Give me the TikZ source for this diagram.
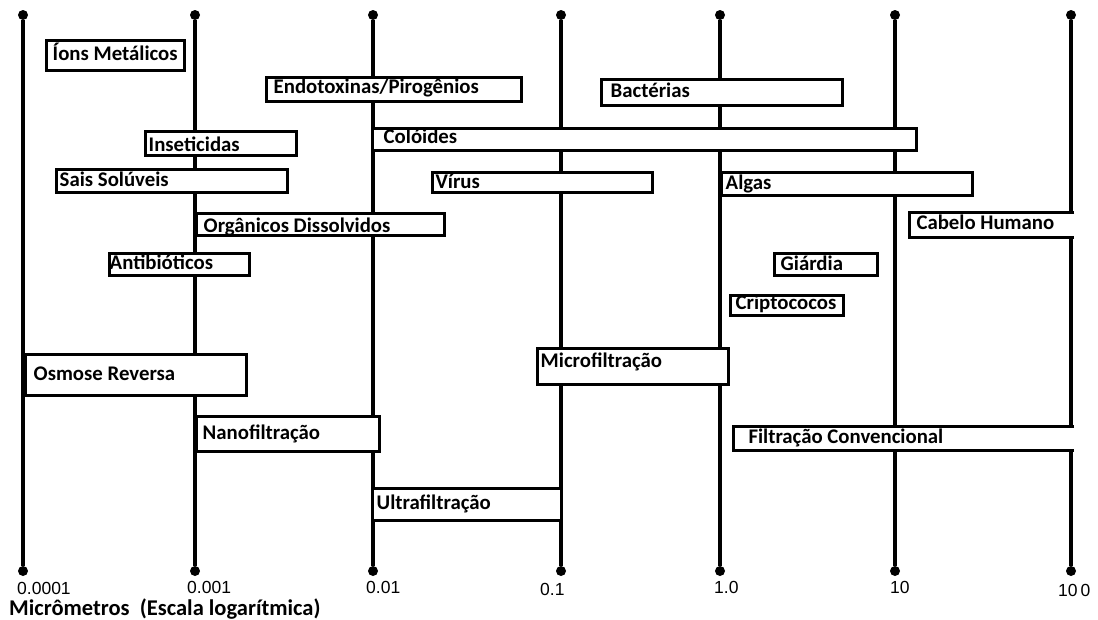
\documentclass[tikz,border=0pt]{standalone}
\usepackage{fontspec}
\setmainfont{Carlito}
\newfontfamily\escfont{Liberation Sans}
\usepackage{tikz}

\tikzset{
	eixo/.style={line width=3.2pt},
	ponto/.style={circle, fill=black, inner sep=0pt, minimum size=10pt},
	faixa/.style={draw=black, fill=white, line width=3pt, inner sep=0pt},
	aberta/.style={fill=white, inner sep=0pt},
	borda/.style={line width=3pt},
	rotulo/.style={anchor=west, inner sep=0pt, font=\fontsize{20.8}{22}\selectfont\bfseries, text height=13pt, text depth=1pt},
	escala/.style={anchor=west, inner sep=0pt, font=\fontsize{17.5}{20}\selectfont\escfont},
	titulo/.style={anchor=west, inner sep=0pt, font=\fontsize{22.5}{24}\selectfont\bfseries}
}

\begin{document}
\begin{tikzpicture}[x=1pt, y=-1pt]
\useasboundingbox (0,0) rectangle (1098,619);
\fill[white] (0,0) rectangle (1098,619);
\node[ponto] (t1) at (23,15) {}; \node[ponto] (b1) at (23,571) {};
\node[ponto] (t2) at (195,15) {}; \node[ponto] (b2) at (195,571) {};
\node[ponto] (t3) at (373,15) {}; \node[ponto] (b3) at (373,571) {};
\node[ponto] (t4) at (561,15) {}; \node[ponto] (b4) at (561,571) {};
\node[ponto] (t5) at (720,15) {}; \node[ponto] (b5) at (720,571) {};
\node[ponto] (t6) at (895,15) {}; \node[ponto] (b6) at (895,571) {};
\node[ponto] (t7) at (1071,15) {}; \node[ponto] (b7) at (1071,571) {};
\draw[eixo] (t1) -- (b1);
\draw[eixo] (t2) -- (b2);
\draw[eixo] (t3) -- (b3);
\draw[eixo] (t4) -- (b4);
\draw[eixo] (t5) -- (b5);
\draw[eixo] (t6) -- (b6);
\draw[eixo] (t7) -- (b7);

\node[faixa, minimum width=138pt, minimum height=30pt] (ions) at (115.5,55.5) {};
\node[faixa, minimum width=255pt, minimum height=24pt] (endo) at (394,89.5) {};
\node[faixa, minimum width=241pt, minimum height=26pt] (bact) at (722,92.5) {};
\node[faixa, minimum width=151pt, minimum height=24pt] (inset) at (221,143.5) {};
\node[faixa, minimum width=544pt, minimum height=22pt] (colo) at (644.5,139.5) {};
\node[faixa, minimum width=231pt, minimum height=23pt] (sais) at (172,181) {};
\node[faixa, minimum width=220pt, minimum height=20pt] (virus) at (542.5,182.5) {};
\node[faixa, minimum width=251pt, minimum height=23pt] (algas) at (847,184) {};
\node[faixa, minimum width=248pt, minimum height=22pt] (org) at (320.5,224.5) {};
\node[aberta, minimum width=164pt, minimum height=25pt] (cabelo) at (992,225) {};
\draw[borda] (cabelo.north east) -- (cabelo.north west) -- (cabelo.south west) -- (cabelo.south east);
\node[faixa, minimum width=140pt, minimum height=22pt] (antib) at (179.5,264.5) {};
\node[faixa, minimum width=103pt, minimum height=22pt] (giard) at (826,264.5) {};
\node[faixa, minimum width=113pt, minimum height=20pt] (cripto) at (787,305.5) {};
\node[faixa, minimum width=221pt, minimum height=41pt] (osmose) at (136,375) {};
\node[faixa, minimum width=191pt, minimum height=36pt] (micro) at (633,366.5) {};
\node[faixa, minimum width=183pt, minimum height=35pt] (nano) at (288,434) {};
\node[aberta, minimum width=340pt, minimum height=24pt] (filt) at (904,438.5) {};
\draw[borda] (filt.north east) -- (filt.north west) -- (filt.south west) -- (filt.south east);
\node[faixa, minimum width=189pt, minimum height=32pt] (ultra) at (467,504.5) {};

\node[rotulo] (ions-t) at ([xshift=7.5pt, yshift=1pt]ions.west) {Íons Metálicos};
\node[rotulo] (endo-t) at ([xshift=8.5pt, yshift=2pt]endo.west) {Endotoxinas/Pirogênios};
\node[rotulo] (bact-t) at ([xshift=10.5pt, yshift=1pt]bact.west) {Bactérias};
\node[rotulo] (inset-t) at ([xshift=4.5pt, yshift=-2pt]inset.west) {Inseticidas};
\node[rotulo] (colo-t) at ([xshift=12.5pt, yshift=2pt]colo.west) {Colóides};
\node[rotulo] (sais-t) at ([xshift=4.5pt, yshift=1pt]sais.west) {Sais Solúveis};
\node[rotulo] (virus-t) at ([xshift=4.5pt]virus.west) {Vírus};
\node[rotulo] (algas-t) at ([xshift=5.5pt, yshift=1pt]algas.west) {Algas};
\node[rotulo] (org-t) at ([xshift=8.5pt, yshift=-2pt]org.west) {Orgânicos Dissolvidos};
\node[rotulo] (cabelo-t) at ([xshift=6.5pt, yshift=2pt]cabelo.west) {Cabelo Humano};
\node[rotulo] (antib-t) at ([xshift=1.5pt, yshift=1pt]antib.west) {Antibióticos};
\node[rotulo] (giard-t) at ([xshift=7.5pt]giard.west) {Giárdia};
\node[rotulo] (cripto-t) at ([xshift=6.5pt, yshift=2pt]cripto.west) {Criptococos};
\node[rotulo] (osmose-t) at ([xshift=9.5pt, yshift=1pt]osmose.west) {Osmose Reversa};
\node[rotulo] (micro-t) at ([xshift=4.5pt, yshift=5pt]micro.west) {Microfiltração};
\node[rotulo] (nano-t) at ([xshift=7.5pt, yshift=1pt]nano.west) {Nanofiltração};
\node[rotulo] (filt-t) at ([xshift=14.5pt, yshift=1pt]filt.west) {Filtração Convencional};
\node[rotulo] (ultra-t) at ([xshift=5.5pt, yshift=1pt]ultra.west) {Ultrafiltração};

\node[escala] (l1) at (17,588.5) {0.0001};
\node[escala] (l2) at (187,587) {0.001};
\node[escala] (l3) at (366,587) {0.01};
\node[escala] (l4) at (540,589) {0.1};
\node[escala] (l5) at (714,587) {1.0};
\node[escala] (l6) at (890,587) {10};
\node[escala] (l7) at (1058,590) {10\,0};
\node[titulo] (tit) at (9,609) {Micrômetros\ \ (Escala logarítmica)};
\end{tikzpicture}
\end{document}
